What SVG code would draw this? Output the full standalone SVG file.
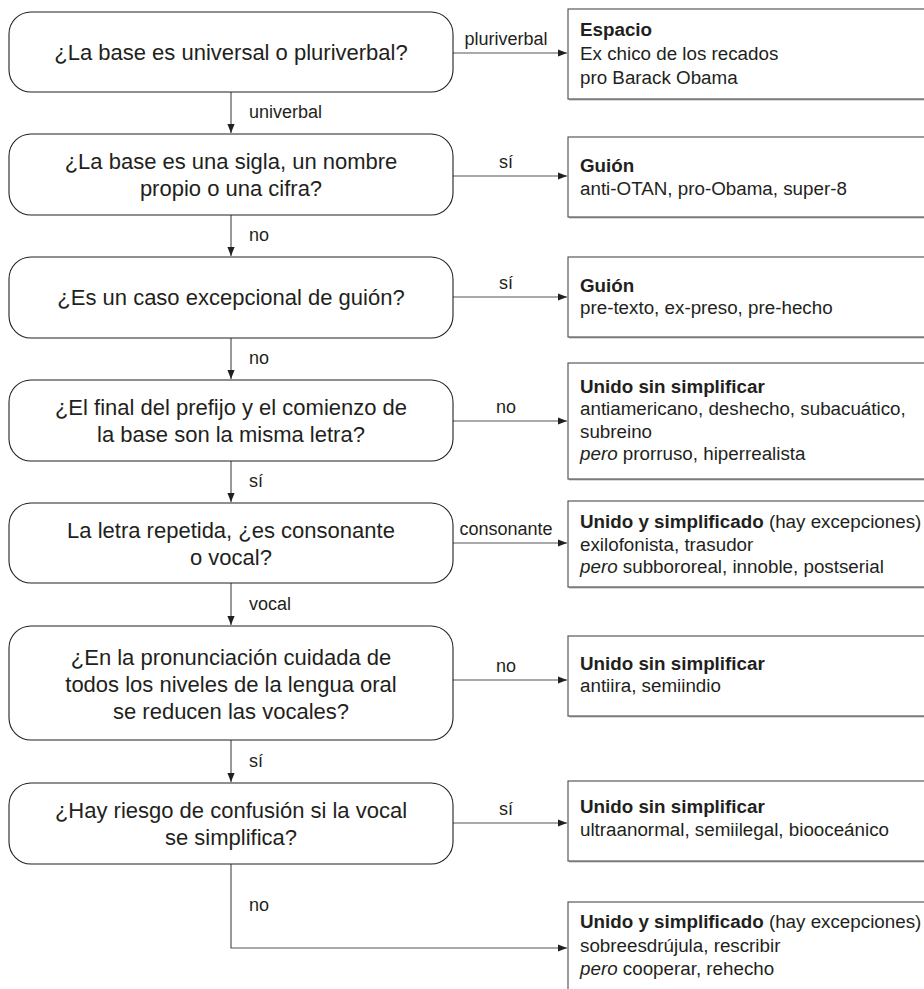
<svg xmlns="http://www.w3.org/2000/svg" width="924" height="989" viewBox="0 0 924 989">
<defs>
<marker id="ah" viewBox="0 0 10 10" refX="10" refY="5" markerWidth="9" markerHeight="9" markerUnits="userSpaceOnUse" orient="auto">
<path d="M0,1 L10,5 L0,9 Z" fill="#231f20"/>
</marker>
</defs>
<style>
.node rect{fill:#fff;stroke:#231f20;stroke-width:1.1}
.node text{font-family:"Liberation Sans",Arial,sans-serif;font-size:22px;fill:#231f20;text-anchor:middle}
.box .sh{fill:#b5b5b5}
.box rect.b{fill:#fff;stroke:#4a4a4a;stroke-width:1.1}
.box text{font-family:"Liberation Sans",Arial,sans-serif;font-size:18.8px;fill:#231f20}
.box .h{font-weight:bold}
.box .i{font-style:italic}
.edges path{fill:none;stroke:#555;stroke-width:1.2}
.edges path.a{marker-end:url(#ah)}
.edges text{font-family:"Liberation Sans",Arial,sans-serif;font-size:18px;fill:#231f20}
.edges text.c{text-anchor:middle}
</style>
<rect width="924" height="989" fill="#fff"/>

<g class="edges" id="connectors">
<path class="a" d="M453,53 H567"/>
<text class="c" x="506" y="45">pluriverbal</text>
<path class="a" d="M231,92 V133"/>
<text x="249" y="118">univerbal</text>
<path class="a" d="M453,176 H567"/>
<text class="c" x="506" y="168">sí</text>
<path class="a" d="M231,215 V256"/>
<text x="249" y="241">no</text>
<path class="a" d="M453,297 H567"/>
<text class="c" x="506" y="289">sí</text>
<path class="a" d="M231,338 V379"/>
<text x="249" y="364">no</text>
<path class="a" d="M453,421 H567"/>
<text class="c" x="506" y="413">no</text>
<path class="a" d="M231,461 V502"/>
<text x="249" y="487">sí</text>
<path class="a" d="M453,543 H567"/>
<text class="c" x="506" y="535">consonante</text>
<path class="a" d="M231,583 V625"/>
<text x="249" y="610">vocal</text>
<path class="a" d="M453,680 H567"/>
<text class="c" x="506" y="672">no</text>
<path class="a" d="M231,740 V782"/>
<text x="249" y="767">sí</text>
<path class="a" d="M453,823 H567"/>
<text class="c" x="506" y="815">sí</text>
<path class="a" d="M231,864 V948 H567"/>
<text x="249" y="911">no</text>
</g>

<g class="node" id="n1">
<rect x="9" y="12" width="444" height="80" rx="22"/>
<text x="231" y="60">¿La base es universal o pluriverbal?</text>
</g>
<g class="node" id="n2">
<rect x="9" y="134" width="444" height="81" rx="22"/>
<text x="231" y="169">¿La base es una sigla, un nombre</text>
<text x="231" y="196">propio o una cifra?</text>
</g>
<g class="node" id="n3">
<rect x="9" y="257" width="444" height="81" rx="22"/>
<text x="231" y="305">¿Es un caso excepcional de guión?</text>
</g>
<g class="node" id="n4">
<rect x="9" y="380" width="444" height="81" rx="22"/>
<text x="231" y="415">¿El final del prefijo y el comienzo de</text>
<text x="231" y="442">la base son la misma letra?</text>
</g>
<g class="node" id="n5">
<rect x="9" y="503" width="444" height="80" rx="22"/>
<text x="231" y="538">La letra repetida, ¿es consonante</text>
<text x="231" y="565">o vocal?</text>
</g>
<g class="node" id="n6">
<rect x="9" y="626" width="444" height="114" rx="22"/>
<text x="231" y="665">¿En la pronunciación cuidada de</text>
<text x="231" y="692">todos los niveles de la lengua oral</text>
<text x="231" y="719">se reducen las vocales?</text>
</g>
<g class="node" id="n7">
<rect x="9" y="783" width="444" height="81" rx="22"/>
<text x="231" y="818">¿Hay riesgo de confusión si la vocal</text>
<text x="231" y="845">se simplifica?</text>
</g>

<g class="box" id="b1">
<rect class="sh" x="569" y="10.5" width="370" height="90"/>
<rect class="b" x="568" y="9" width="370" height="90"/>
<text class="h" x="580" y="36">Espacio</text>
<text x="580" y="60">Ex chico de los recados</text>
<text x="580" y="84">pro Barack Obama</text>
</g>
<g class="box" id="b2">
<rect class="sh" x="569" y="138.5" width="370" height="80"/>
<rect class="b" x="568" y="137" width="370" height="80"/>
<text class="h" x="580" y="172">Guión</text>
<text x="580" y="195">anti-OTAN, pro-Obama, super-8</text>
</g>
<g class="box" id="b3">
<rect class="sh" x="569" y="258.5" width="370" height="80"/>
<rect class="b" x="568" y="257" width="370" height="80"/>
<text class="h" x="580" y="292">Guión</text>
<text x="580" y="314">pre-texto, ex-preso, pre-hecho</text>
</g>
<g class="box" id="b4">
<rect class="sh" x="569" y="364.5" width="370" height="116"/>
<rect class="b" x="568" y="363" width="370" height="116"/>
<text class="h" x="580" y="393">Unido sin simplificar</text>
<text x="580" y="415">antiamericano, deshecho, subacuático,</text>
<text x="580" y="438">subreino</text>
<text x="580" y="460"><tspan class="i">pero</tspan> prorruso, hiperrealista</text>
</g>
<g class="box" id="b5">
<rect class="sh" x="569" y="502.5" width="370" height="86"/>
<rect class="b" x="568" y="501" width="370" height="86"/>
<text x="580" y="528"><tspan class="h">Unido y simplificado</tspan> (hay excepciones)</text>
<text x="580" y="551">exilofonista, trasudor</text>
<text x="580" y="573"><tspan class="i">pero</tspan> subbororeal, innoble, postserial</text>
</g>
<g class="box" id="b6">
<rect class="sh" x="569" y="637.5" width="370" height="80"/>
<rect class="b" x="568" y="636" width="370" height="80"/>
<text class="h" x="580" y="670">Unido sin simplificar</text>
<text x="580" y="692">antiira, semiindio</text>
</g>
<g class="box" id="b7">
<rect class="sh" x="569" y="782.5" width="370" height="80"/>
<rect class="b" x="568" y="781" width="370" height="80"/>
<text class="h" x="580" y="813">Unido sin simplificar</text>
<text x="580" y="836">ultraanormal, semiilegal, biooceánico</text>
</g>
<g class="box" id="b8">
<rect class="sh" x="569" y="903.5" width="370" height="110"/>
<rect class="b" x="568" y="902" width="370" height="110"/>
<text x="580" y="928"><tspan class="h">Unido y simplificado</tspan> (hay excepciones)</text>
<text x="580" y="952">sobreesdrújula, rescribir</text>
<text x="580" y="975"><tspan class="i">pero</tspan> cooperar, rehecho</text>
</g>
</svg>
